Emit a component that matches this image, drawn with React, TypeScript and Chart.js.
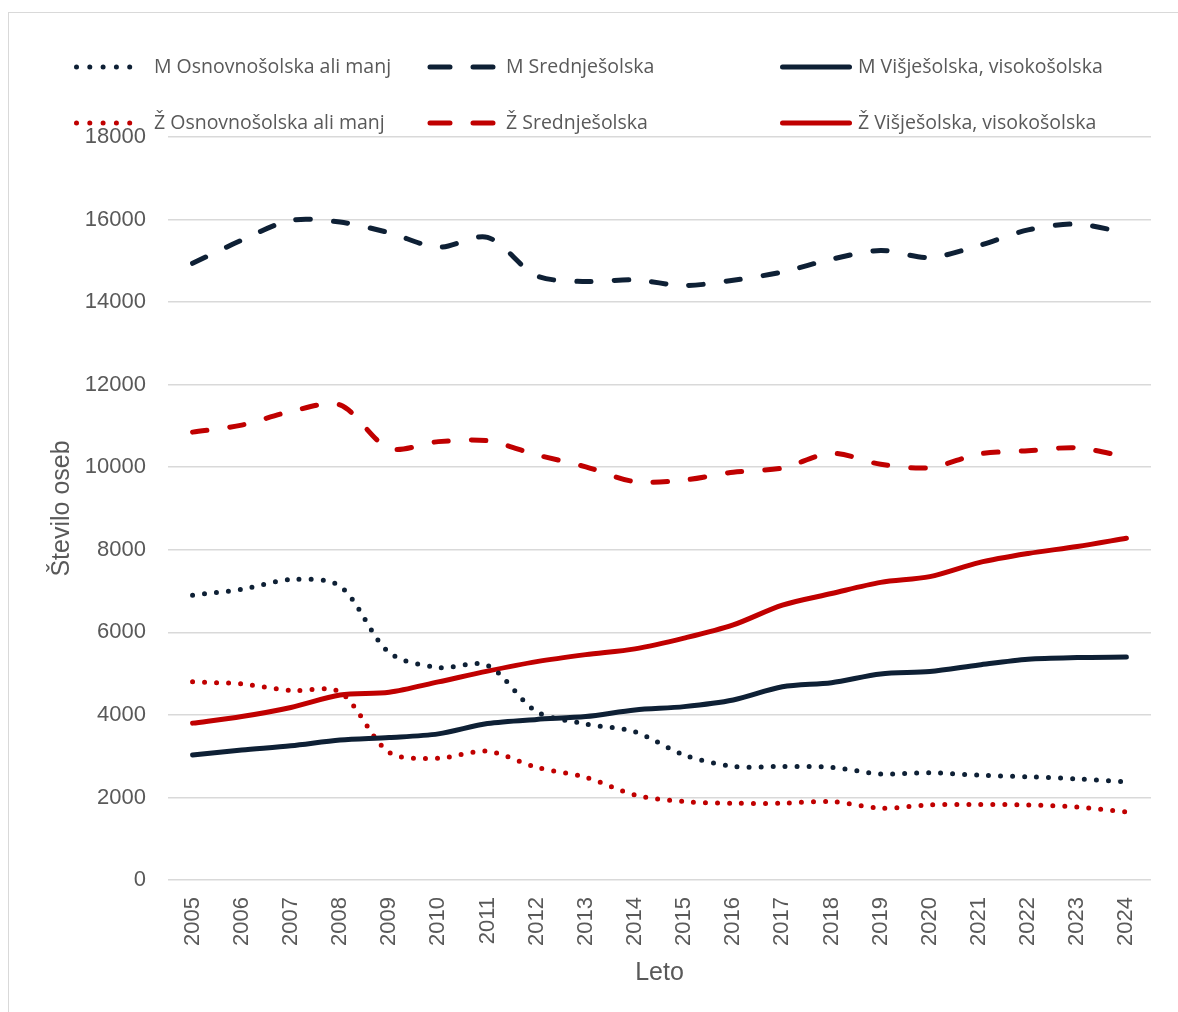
import React, { useEffect, useRef } from "react";
import { Chart, registerables } from "chart.js";

Chart.register(...registerables);

const years = [
  "2005", "2006", "2007", "2008", "2009", "2010", "2011", "2012", "2013", "2014",
  "2015", "2016", "2017", "2018", "2019", "2020", "2021", "2022", "2023", "2024",
];

const yTickValues = [0, 2000, 4000, 6000, 8000, 10000, 12000, 14000, 16000, 18000];

const mOsnovna = [6900, 7040, 7280, 7120, 5510, 5150, 5200, 4080, 3780, 3590, 3030, 2750, 2750, 2730, 2570, 2600, 2540, 2500, 2450, 2380];
const mSrednja = [14940, 15500, 15980, 15940, 15680, 15330, 15570, 14640, 14500, 14540, 14400, 14530, 14730, 15040, 15250, 15080, 15370, 15750, 15890, 15670];
const mVisja = [3030, 3150, 3250, 3390, 3450, 3540, 3790, 3890, 3960, 4120, 4200, 4360, 4680, 4780, 4990, 5050, 5210, 5350, 5390, 5400];
const zOsnovna = [4800, 4750, 4590, 4550, 3090, 2950, 3120, 2730, 2490, 2060, 1900, 1860, 1860, 1900, 1740, 1820, 1830, 1820, 1770, 1650];
const zSrednja = [10850, 11020, 11350, 11510, 10460, 10620, 10640, 10300, 10010, 9650, 9690, 9880, 9980, 10340, 10070, 9990, 10320, 10400, 10470, 10250];
const zVisja = [3800, 3960, 4180, 4480, 4550, 4800, 5060, 5290, 5460, 5600, 5860, 6180, 6660, 6940, 7210, 7350, 7690, 7910, 8080, 8280];

const labels = [
  "M Osnovnošolska ali manj",
  "M Srednješolska",
  "M Višješolska, visokošolska",
  "Ž Osnovnošolska ali manj",
  "Ž Srednješolska",
  "Ž Višješolska, visokošolska",
];

const NAVY = "#0E2035";
const RED = "#C00000";
const TEXT = "#595959";
const GRID = "#D9D9D9";
const AXIS_FONT = '"Liberation Sans", Arial, sans-serif';
const LEGEND_FONT = '"Open Sans", "Noto Sans", sans-serif';

const DOT = [0, 12];
const DASH = [14.5, 23];

// legend geometry (canvas coords)
const legendSampleX = [68.5, 422, 774.5];
const legendSampleEnd = [135, 485, 841.5];
const legendTextX = [146, 498, 850];
const legendRowY = [59, 115];
const legendDashes = [[0, 13.3], [20, 23], []];

const legendPlugin = {
  id: "customLegend",
  afterDraw(chart: any) {
    const ctx = chart.ctx as CanvasRenderingContext2D;
    ctx.save();
    chart.data.datasets.forEach((ds: any, i: number) => {
      const col = i % 3;
      const row = Math.floor(i / 3);
      const y = legendRowY[row];
      ctx.beginPath();
      ctx.strokeStyle = ds.borderColor;
      ctx.lineWidth = 5;
      ctx.lineCap = "round";
      ctx.setLineDash(legendDashes[col]);
      ctx.moveTo(legendSampleX[col], y);
      ctx.lineTo(legendSampleEnd[col], y);
      ctx.stroke();
      ctx.setLineDash([]);
      ctx.fillStyle = TEXT;
      ctx.font = `19.5px ${LEGEND_FONT}`;
      ctx.textAlign = "left";
      ctx.textBaseline = "middle";
      ctx.fillText(ds.label, legendTextX[col], y);
    });
    ctx.restore();
  },
};

export default function App() {
  const ref = useRef<HTMLCanvasElement | null>(null);

  useEffect(() => {
    if (!ref.current) return;
    const mk = (label: string, data: number[], color: string, dash: number[]) => ({
      label,
      data,
      borderColor: color,
      backgroundColor: color,
      borderWidth: 5,
      borderDash: dash,
      borderCapStyle: "round" as const,
      borderJoinStyle: "round" as const,
      pointRadius: 0,
      pointHoverRadius: 0,
      tension: 0.3,
      fill: false,
    });
    const chart = new Chart(ref.current, {
      type: "line",
      data: {
        labels: years,
        datasets: [
          mk(labels[0], mOsnovna, NAVY, DOT),
          mk(labels[1], mSrednja, NAVY, DASH),
          mk(labels[2], mVisja, NAVY, []),
          mk(labels[3], zOsnovna, RED, DOT),
          mk(labels[4], zSrednja, RED, DASH),
          mk(labels[5], zVisja, RED, []),
        ],
      },
      options: {
        responsive: false,
        animation: false,
        layout: { padding: { top: 129, right: 8, bottom: 0, left: 0 } },
        plugins: {
          legend: { display: false },
          tooltip: { enabled: false },
          title: { display: false },
        },
        scales: {
          x: {
            type: "category",
            offset: true,
            grid: { display: false, drawTicks: false },
            border: { display: false },
            ticks: {
              autoSkip: false,
              maxRotation: 90,
              minRotation: 90,
              padding: 17,
              color: TEXT,
              font: { family: AXIS_FONT, size: 22 },
            },
            title: {
              display: true,
              text: "Leto",
              color: TEXT,
              font: { family: AXIS_FONT, size: 25 },
              padding: { top: 0, bottom: 16 },
            },
            afterFit(scale: any) {
              scale.height = 124;
            },
          },
          y: {
            min: 0,
            max: 18000,
            grid: { color: GRID, lineWidth: 1.5, drawTicks: false },
            border: { display: false },
            ticks: {
              padding: 22,
              color: TEXT,
              font: { family: AXIS_FONT, size: 22 },
              callback: (v: any) => String(v),
            },
            afterBuildTicks(scale: any) {
              scale.ticks = yTickValues.map((v) => ({ value: v }));
            },
            title: {
              display: true,
              text: "Število oseb",
              color: TEXT,
              font: { family: AXIS_FONT, size: 25 },
              padding: { top: 39, bottom: 0 },
            },
            afterFit(scale: any) {
              scale.width = 160;
            },
          },
        },
      },
      plugins: [legendPlugin],
    });
    return () => chart.destroy();
  }, []);

  return (
    <div
      style={{
        position: "fixed",
        left: 0,
        top: 0,
        width: 1178,
        height: 1012,
        overflow: "hidden",
        background: "#fff",
      }}
    >
      <div
        style={{
          position: "absolute",
          left: 8,
          top: 12,
          width: 1400,
          height: 1200,
          border: `1px solid ${GRID}`,
          boxSizing: "border-box",
        }}
      />
      <canvas
        ref={ref}
        width={1162}
        height={996}
        style={{ position: "absolute", left: 8, top: 8 }}
      />
    </div>
  );
}
